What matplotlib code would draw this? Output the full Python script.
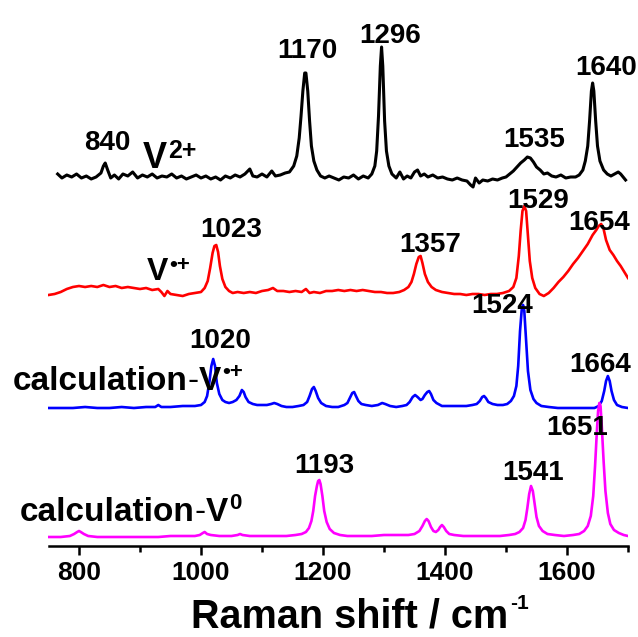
import numpy as np
import matplotlib
matplotlib.use("Agg")
import matplotlib.pyplot as plt
from matplotlib.ticker import MultipleLocator

plt.rcParams['font.family'] = ['Liberation Sans', 'DejaVu Sans']
plt.rcParams['font.weight'] = 'bold'

# spectra: (Raman shift, intensity above the trace baseline)
black_pts = [(765,3),(772,-1),(780,2),(788,0),(796,3),(804,-1),(812,1),(820,-2),(828,0),(836,4),(840,11),(843,14),(847,7),(852,-1),(858,2),(865,-2),(872,3),(880,1),(888,5),(896,-1),(904,2),(912,0),(920,3),(928,-1),(936,1),(944,0),(952,3),(960,-1),(968,1),(976,-2),(984,0),(992,2),(1000,-1),(1008,1),(1016,-2),(1024,0),(1032,-3),(1040,1),(1048,-1),(1056,2),(1064,0),(1072,3),(1080,8),(1085,1),(1092,0),(1100,3),(1108,0),(1116,6),(1122,1),(1130,2),(1138,4),(1145,5),(1152,11),(1157,21),(1161,39),(1164,61),(1167,86),(1170,104),(1172,104),(1175,86),(1178,56),(1181,31),(1185,16),(1190,7),(1196,1),(1203,-1),(1210,1),(1218,-1),(1226,-3),(1234,0),(1242,-1),(1250,2),(1258,-2),(1266,1),(1274,-1),(1280,3),(1285,11),(1288,26),(1291,61),(1294,111),(1296,130),(1298,111),(1301,56),(1304,26),(1308,11),(1313,3),(1320,-1),(1326,5),(1332,-2),(1338,1),(1344,-1),(1350,5),(1355,7),(1360,1),(1366,3),(1372,0),(1380,2),(1388,-1),(1396,0),(1404,-2),(1412,-3),(1420,-1),(1428,-3),(1436,-4),(1442,-8),(1446,-10),(1450,-1),(1456,-6),(1462,-3),(1470,-4),(1478,-2),(1486,-3),(1494,-1),(1500,0),(1506,3),(1512,6),(1518,10),(1524,14),(1530,17),(1535,20),(1540,19),(1545,15),(1550,10),(1556,7),(1562,3),(1568,4),(1575,1),(1582,0),(1590,2),(1598,-1),(1606,0),(1614,0),(1620,2),(1626,7),(1630,16),(1634,31),(1637,56),(1640,86),(1642,94),(1644,86),(1647,56),(1650,31),(1654,16),(1660,7),(1666,3),(1672,1),(1678,3),(1684,5),(1688,3),(1692,0),(1696,-3)]

red_pts = [(750,-2),(760,-1),(770,1),(780,4),(790,6),(800,7),(810,6),(820,7),(830,6),(840,8),(850,6),(860,7),(870,5),(880,6),(890,5),(900,4),(910,5),(920,3),(930,4),(935,1),(940,-3),(945,2),(950,-1),(960,-2),(970,-3),(980,-1),(990,0),(1000,1),(1006,5),(1011,12),(1015,25),(1019,40),(1022,47),(1025,48),(1028,41),(1031,27),(1035,14),(1040,6),(1046,2),(1052,0),(1060,1),(1070,0),(1080,1),(1090,0),(1100,2),(1110,3),(1118,5),(1125,2),(1135,2),(1145,1),(1155,2),(1165,1),(1172,4),(1178,0),(1185,1),(1195,0),(1205,2),(1215,2),(1225,3),(1235,2),(1245,3),(1255,2),(1265,3),(1275,2),(1285,1),(1295,1),(1305,0),(1315,0),(1325,1),(1333,3),(1340,6),(1345,11),(1349,19),(1353,29),(1357,36),(1360,37),(1363,30),(1367,19),(1372,11),(1378,6),(1385,3),(1395,1),(1405,0),(1415,-1),(1425,-1),(1435,-2),(1445,-1),(1455,-1),(1465,-2),(1475,-1),(1485,-1),(1495,0),(1505,2),(1512,6),(1517,15),(1521,37),(1524,62),(1527,82),(1530,87),(1533,82),(1536,57),(1539,32),(1543,15),(1548,5),(1555,-1),(1562,-3),(1570,0),(1578,5),(1586,11),(1594,16),(1602,22),(1610,29),(1618,35),(1626,42),(1634,49),(1642,58),(1648,63),(1652,67),(1656,69),(1660,64),(1664,53),(1670,43),(1676,38),(1682,32),(1688,27),(1694,21),(1700,15)]

blue_pts = [(750,0),(770,0),(790,0),(810,1),(830,0),(850,0),(870,1),(890,0),(910,1),(925,1),(930,3),(935,1),(950,1),(970,2),(990,2),(1000,3),(1006,6),(1010,12),(1014,27),(1017,42),(1020,49),(1023,42),(1026,25),(1030,14),(1035,8),(1040,6),(1046,5),(1052,6),(1058,8),(1063,12),(1067,18),(1070,16),(1073,11),(1078,6),(1085,4),(1092,3),(1100,3),(1108,3),(1115,4),(1120,5),(1125,4),(1132,2),(1140,1),(1150,1),(1160,2),(1168,3),(1174,6),(1178,12),(1182,19),(1185,21),(1188,17),(1192,10),(1197,5),(1205,2),(1215,1),(1225,1),(1235,3),(1240,5),(1244,10),(1248,15),(1251,16),(1254,12),(1258,7),(1263,4),(1270,3),(1280,2),(1290,3),(1297,5),(1302,4),(1310,2),(1320,1),(1330,2),(1337,3),(1342,6),(1347,11),(1351,13),(1355,11),(1360,8),(1363,9),(1367,13),(1371,16),(1374,17),(1377,14),(1381,8),(1386,5),(1395,2),(1405,2),(1415,2),(1425,2),(1435,2),(1445,3),(1452,4),(1457,7),(1461,11),(1464,12),(1467,10),(1471,6),(1478,4),(1486,3),(1495,3),(1502,4),(1508,7),(1513,12),(1517,22),(1520,42),(1523,77),(1526,100),(1528,103),(1530,97),(1533,67),(1536,37),(1540,18),(1545,9),(1550,5),(1558,2),(1570,1),(1585,0),(1600,0),(1615,0),(1630,0),(1645,0),(1652,2),(1657,7),(1661,17),(1664,27),(1667,32),(1670,27),(1673,17),(1677,8),(1682,3),(1690,1),(1700,0)]

magenta_pts = [(750,-1),(770,-1),(785,0),(792,2),(797,4),(800,5),(803,4),(808,2),(815,0),(830,-1),(850,-1),(870,-1),(890,-1),(910,-1),(930,-1),(950,0),(970,0),(990,0),(998,1),(1003,3),(1006,4),(1010,2),(1016,1),(1030,0),(1050,0),(1060,1),(1064,2),(1068,1),(1080,0),(1100,0),(1120,0),(1140,0),(1155,1),(1165,2),(1172,4),(1177,8),(1181,15),(1184,25),(1187,40),(1190,50),(1192,55),(1194,56),(1196,52),(1199,40),(1202,25),(1206,14),(1211,7),(1218,3),(1228,1),(1240,0),(1260,0),(1280,0),(1300,1),(1320,1),(1340,1),(1350,2),(1358,5),(1363,10),(1367,15),(1370,17),(1373,15),(1377,9),(1381,5),(1385,4),(1389,6),(1392,9),(1395,11),(1398,9),(1402,5),(1407,2),(1415,1),(1430,0),(1450,0),(1470,0),(1490,0),(1505,1),(1515,2),(1522,4),(1528,8),(1532,16),(1535,28),(1538,42),(1541,50),(1544,45),(1547,32),(1550,19),(1554,10),(1560,5),(1568,2),(1580,1),(1595,0),(1610,1),(1620,2),(1628,5),(1634,10),(1639,20),(1643,40),(1646,70),(1649,105),(1651,125),(1653,133),(1655,130),(1657,110),(1660,75),(1663,45),(1667,23),(1671,12),(1677,6),(1685,3),(1693,1),(1700,0)]

# peak labels (text, x, y)
black_peaks = [("840", 847, 396), ("1170", 1175, 488), ("1296", 1310, 503), ("1535", 1546, 399), ("1640", 1664, 471)]
red_peaks = [("1023", 1049, 309), ("1357", 1375, 294), ("1529", 1552, 338), ("1654", 1652, 316)]
blue_peaks = [("1020", 1031, 198), ("1524", 1493, 233), ("1664", 1654, 174)]
magenta_peaks = [("1193", 1202, 73), ("1541", 1544, 66), ("1651", 1616, 111)]

offsets = {'black': 369, 'red': 253, 'blue': 138, 'magenta': 10}
widths = {'black': 2.2, 'red': 1.9, 'blue': 1.9, 'magenta': 1.9}

fig = plt.figure(figsize=(6.38, 6.37), dpi=100)
ax = fig.add_axes([48.5 / 638, 91 / 637, (628 - 48.5) / 638, 546 / 637])

for pts, col in [(black_pts, 'black'), (red_pts, 'red'), (blue_pts, 'blue'), (magenta_pts, 'magenta')]:
    x, y = np.array(pts, dtype=float).T
    ax.plot(x, y + offsets[col], color=col, lw=widths[col], solid_joinstyle='round')

for lab, x, y in black_peaks + red_peaks + blue_peaks + magenta_peaks:
    ax.text(x, y, lab, ha='center', va='baseline', fontsize=20, fontweight='bold', clip_on=False)


def sup_after(t, sup, size, frac):
    # superscript placed right after the text artist t
    return ax.annotate(sup, xy=(1, frac), xycoords=t, xytext=(0.5, 0), textcoords='offset points',
                       fontsize=size, fontweight='bold', va='baseline', ha='left', annotation_clip=False)


def calc_label(x, y, sup, size, sup_size, frac):
    t1 = ax.text(x, y, "calculation", fontsize=size, fontweight='bold', va='baseline', ha='left', clip_on=False)
    t2 = ax.annotate("-", xy=(1, 0), xycoords=t1, fontsize=size, fontweight='normal',
                     va='bottom', ha='left', annotation_clip=False)
    t3 = ax.annotate("V", xy=(1, 0), xycoords=t2, fontsize=size, fontweight='bold',
                     va='bottom', ha='left', annotation_clip=False)
    sup_after(t3, sup, sup_size, frac)


# series names
tv = ax.text(905, 378, "V", fontsize=26, fontweight='bold', va='baseline', ha='left')
sup_after(tv, "2+", 18, 0.52)
tv = ax.text(911, 266, "V", fontsize=23, fontweight='bold', va='baseline', ha='left')
sup_after(tv, "•+", 16, 0.52)
calc_label(692, 156, "•+", 24, 16, 0.62)
calc_label(703, 25, "0", 24, 16, 0.62)

ax.set_xlim(750, 1700)
ax.set_ylim(0, 546)
for s in ['top', 'right', 'left']:
    ax.spines[s].set_visible(False)
ax.spines['bottom'].set_linewidth(1.8)
ax.set_yticks([])
ax.xaxis.set_major_locator(MultipleLocator(200))
ax.xaxis.set_minor_locator(MultipleLocator(100))
ax.tick_params(axis='x', which='major', direction='out', length=6.5, width=1.8, pad=4, labelsize=19)
ax.tick_params(axis='x', which='minor', direction='out', length=4, width=1.8)
for t in ax.get_xticklabels():
    t.set_fontweight('bold')

# x label with a small raised "-1"
xl = fig.text(350 / 638, 0.003, "Raman shift / cm", ha='center', va='bottom', fontsize=28.5, fontweight='bold')
ax.annotate("-1", xy=(1, 0.68), xycoords=xl, xytext=(1, 0), textcoords='offset points',
            fontsize=15, fontweight='bold', va='baseline', ha='left', annotation_clip=False)

fig.savefig('out.png', dpi=100)
